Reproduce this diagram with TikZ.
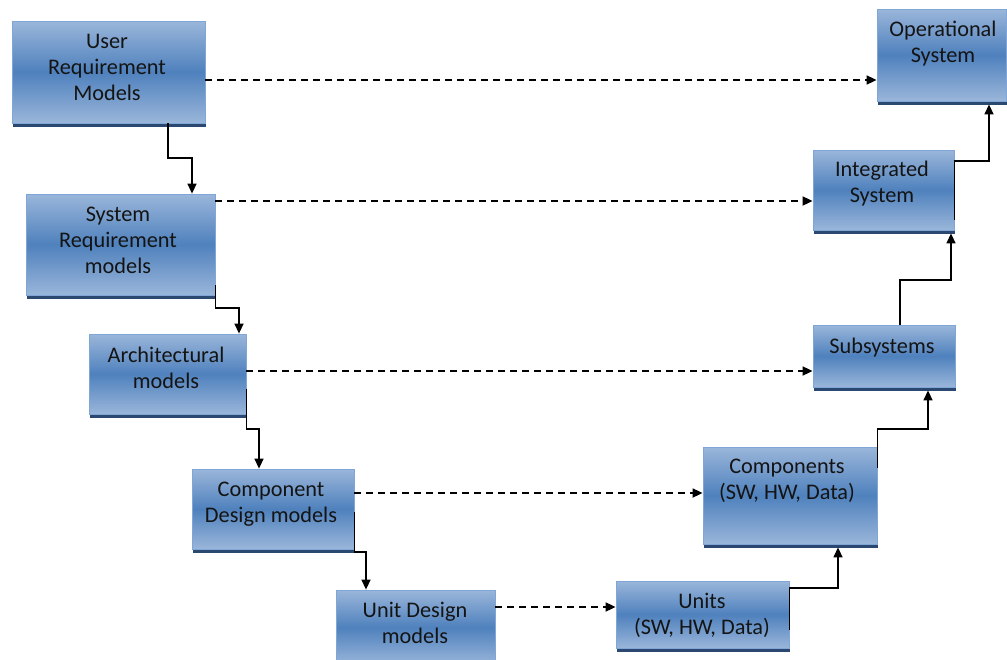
\documentclass[tikz,border=0pt]{standalone}
\usepackage{fontspec}
\setmainfont{Carlito}
\usetikzlibrary{arrows.meta,shadows}
\definecolor{boxlight}{HTML}{9AB6DA}
\definecolor{boxdark}{HTML}{4F81BD}
\definecolor{boxedge}{HTML}{7FA6D6}
\definecolor{boxshadow}{HTML}{2A4870}
\definecolor{txt}{HTML}{141414}
\newcommand\boxlines[1]{\parbox[t]{220pt}{\centering #1}}
\tikzset{
  vbox/.style={draw=boxedge, line width=0.8pt, top color=boxlight, bottom color=boxlight, middle color=boxdark,
    inner sep=0pt, minimum width=#1,
    drop shadow={shadow xshift=0.5pt, shadow yshift=-3.5pt, fill=boxshadow, opacity=1}},
  vtext/.style={anchor=base, inner sep=0pt, text=txt, font=\fontsize{22.3}{26}\selectfont},
  conn/.style={draw=black, line width=1.4pt, -{Triangle[length=10pt,width=9pt]}},
  dashconn/.style={draw=black, line width=1.7pt, dash pattern=on 7pt off 5pt, -{Triangle[length=10pt,width=9pt]}}
}
\begin{document}
\begin{tikzpicture}[x=1pt,y=-1pt]
\useasboundingbox (0,0) rectangle (1007,659);
% boxes
\node[vbox=193pt, minimum height=102pt] (user)  at (108.5,72) {};
\node[vbox=189pt, minimum height=101pt] (sys)   at (120.5,244.5) {};
\node[vbox=157pt, minimum height=80pt]  (arch)  at (167.5,374) {};
\node[vbox=162pt, minimum height=80pt]  (cdm)   at (273,509) {};
\node[vbox=159pt, minimum height=75pt]  (udm)   at (415.5,627.5) {};
\node[vbox=173pt, minimum height=67pt]  (units) at (702.5,614.5) {};
\node[vbox=174pt, minimum height=97pt]  (comps) at (790,495.5) {};
\node[vbox=142pt, minimum height=62pt]  (subs)  at (884,356) {};
\node[vbox=141pt, minimum height=80pt]  (integ) at (883.5,190) {};
\node[vbox=129pt, minimum height=92pt]  (oper)  at (941.5,55) {};
% texts
\node[vtext] (tuser)  at (107,48)  {\boxlines{User\\Requirement\\Models}};
\node[vtext] (tsys)   at (118,221) {\boxlines{System\\Requirement\\models}};
\node[vtext] (tarch)  at (166,362) {\boxlines{Architectural\\models}};
\node[vtext] (tcdm)   at (271,496) {\boxlines{Component\\Design models}};
\node[vtext] (tudm)   at (415,617) {\boxlines{Unit Design\\models}};
\node[vtext] (tunits) at (702,608) {\boxlines{Units\\(SW, HW, Data)}};
\node[vtext] (tcomps) at (787,473) {\boxlines{Components\\(SW, HW, Data)}};
\node[vtext] (tsubs)  at (882,353) {\boxlines{Subsystems}};
\node[vtext] (tinteg) at (882,176) {\boxlines{Integrated\\System}};
\node[vtext] (toper)  at (943,36)  {\boxlines{Operational\\System}};
% bend points
\coordinate (k1) at (168,158);
\coordinate (k1b) at (192,158);
\coordinate (k2) at (239,308);
\coordinate (k3) at (259,429);
\coordinate (k4) at (366,552);
\coordinate (k5) at (838,588);
\coordinate (k6) at (928,429);
\coordinate (k7a) at (900,280);
\coordinate (k7b) at (951,280);
\coordinate (k8) at (989,161);
% descending connectors
\draw[conn] (user.south -| k1) -- (k1) -- (k1b) -- (sys.north -| k1b);
\draw[conn] ([yshift=10pt]sys.south east) |- (k2) -- (arch.north -| k2);
\draw[conn] ([yshift=25pt]arch.south east) |- (k3) -- (cdm.north -| k3);
\draw[conn] ([yshift=37pt]cdm.south east) |- (k4) -- (udm.north -| k4);
% ascending connectors
\draw[conn, shorten >=3pt] ([yshift=18pt]units.south east) |- (k5) -- (comps.south -| k5);
\draw[conn, shorten >=3pt] ([yshift=-21pt]comps.north east) |- (k6) -- (subs.south -| k6);
\draw[conn, shorten >=3pt] (subs.north -| k7a) -- (k7a) -- (k7b) -- (integ.south -| k7b);
\draw[conn, shorten >=3pt] ([yshift=10pt]integ.south east) |- (k8) -- (oper.south -| k8);
% dashed
\coordinate (d1) at (0,80);
\coordinate (d2) at (0,201);
\coordinate (d3) at (0,371);
\coordinate (d4) at (0,493);
\coordinate (d5) at (0,607);
\draw[dashconn] (user.east |- d1) -- (oper.west |- d1);
\draw[dashconn] (sys.east |- d2) -- (integ.west |- d2);
\draw[dashconn] (arch.east |- d3) -- (subs.west |- d3);
\draw[dashconn] (cdm.east |- d4) -- (comps.west |- d4);
\draw[dashconn] (udm.east |- d5) -- (units.west |- d5);
\end{tikzpicture}
\end{document}
